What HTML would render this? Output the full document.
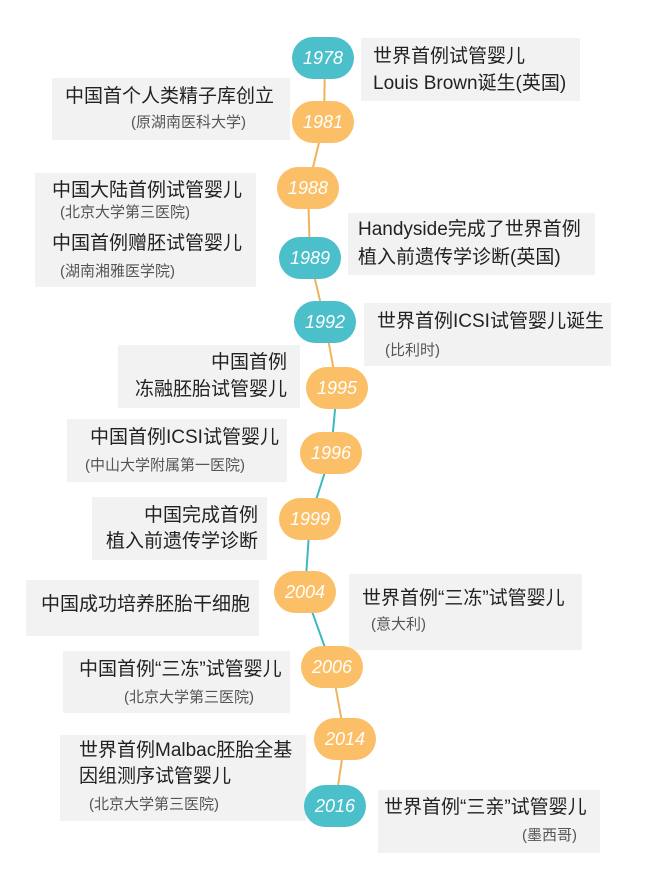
<!DOCTYPE html>
<html><head><meta charset="utf-8"><style>
body{margin:0;width:650px;height:881px;background:#fff;position:relative;overflow:hidden;font-family:"Liberation Sans","Noto Sans CJK SC",sans-serif}
.b{position:absolute;background:#f2f2f2}
.t{position:absolute;font-size:19px;color:#222;white-space:nowrap;line-height:22px}
.s{position:absolute;font-size:15px;color:#555;white-space:nowrap;line-height:18px}
.n{position:absolute;width:62px;height:42px;border-radius:21px;color:#fff;font-style:italic;font-size:18px;text-align:center;line-height:42px}
.o{background:#fbbf67}.c{background:#4bbfca}
svg{position:absolute;left:0;top:0}
</style></head><body>
<div class="b" style="left:361px;top:38px;width:219px;height:63px"></div>
<div class="b" style="left:52px;top:78px;width:238px;height:62px"></div>
<div class="b" style="left:35px;top:173px;width:221px;height:114px"></div>
<div class="b" style="left:348px;top:213px;width:247px;height:62px"></div>
<div class="b" style="left:364px;top:303px;width:247px;height:63px"></div>
<div class="b" style="left:118px;top:345px;width:182px;height:63px"></div>
<div class="b" style="left:67px;top:419px;width:220px;height:63px"></div>
<div class="b" style="left:92px;top:497px;width:175px;height:63px"></div>
<div class="b" style="left:26px;top:580px;width:233px;height:56px"></div>
<div class="b" style="left:349px;top:574px;width:233px;height:76px"></div>
<div class="b" style="left:63px;top:651px;width:227px;height:62px"></div>
<div class="b" style="left:60px;top:735px;width:246px;height:86px"></div>
<div class="b" style="left:378px;top:790px;width:222px;height:63px"></div>
<svg width="650" height="881">
<g stroke-width="2" fill="none">
<path d="M325 58 L324 122 L308 188 L310 258 L325 322 L337 388" stroke="#f0b35a"/>
<path d="M337 388 L331 453 L310 519 L305 592 L332 667" stroke="#3fb8c2"/>
<path d="M332 667 L345 739 L335 806" stroke="#f0b35a"/>
</g></svg>
<div class="n c" style="left:292px;top:37px">1978</div>
<div class="n o" style="left:292px;top:101px">1981</div>
<div class="n o" style="left:277px;top:167px">1988</div>
<div class="n c" style="left:279px;top:237px">1989</div>
<div class="n c" style="left:294px;top:301px">1992</div>
<div class="n o" style="left:306px;top:367px">1995</div>
<div class="n o" style="left:300px;top:432px">1996</div>
<div class="n o" style="left:279px;top:498px">1999</div>
<div class="n o" style="left:274px;top:571px">2004</div>
<div class="n o" style="left:301px;top:646px">2006</div>
<div class="n o" style="left:314px;top:718px">2014</div>
<div class="n c" style="left:304px;top:785px">2016</div>

<div class="t" style="left:373px;top:46px">世界首例试管婴儿</div>
<div class="t" style="left:373px;top:73px">Louis Brown诞生(英国)</div>
<div class="t" style="left:65px;top:86px">中国首个人类精子库创立</div>
<div class="s" style="left:131px;top:114px">(原湖南医科大学)</div>
<div class="t" style="left:52px;top:180px">中国大陆首例试管婴儿</div>
<div class="s" style="left:60px;top:204px">(北京大学第三医院)</div>
<div class="t" style="left:52px;top:233px">中国首例赠胚试管婴儿</div>
<div class="s" style="left:60px;top:263px">(湖南湘雅医学院)</div>
<div class="t" style="left:358px;top:219px">Handyside完成了世界首例</div>
<div class="t" style="left:358px;top:247px">植入前遗传学诊断(英国)</div>
<div class="t" style="left:377px;top:311px">世界首例ICSI试管婴儿诞生</div>
<div class="s" style="left:385px;top:342px">(比利时)</div>
<div class="t" style="left:100px;top:352px;width:187px;text-align:right">中国首例</div>
<div class="t" style="left:100px;top:379px;width:187px;text-align:right">冻融胚胎试管婴儿</div>
<div class="t" style="left:90px;top:427px">中国首例ICSI试管婴儿</div>
<div class="s" style="left:85px;top:457px">(中山大学附属第一医院)</div>
<div class="t" style="left:60px;top:505px;width:198px;text-align:right">中国完成首例</div>
<div class="t" style="left:60px;top:531px;width:198px;text-align:right">植入前遗传学诊断</div>
<div class="t" style="left:41px;top:594px">中国成功培养胚胎干细胞</div>
<div class="t" style="left:362px;top:588px">世界首例“三冻”试管婴儿</div>
<div class="s" style="left:371px;top:616px">(意大利)</div>
<div class="t" style="left:79px;top:659px">中国首例“三冻”试管婴儿</div>
<div class="s" style="left:124px;top:689px">(北京大学第三医院)</div>
<div class="t" style="left:79px;top:740px">世界首例Malbac胚胎全基</div>
<div class="t" style="left:79px;top:766px">因组测序试管婴儿</div>
<div class="s" style="left:89px;top:796px">(北京大学第三医院)</div>
<div class="t" style="left:384px;top:797px">世界首例“三亲”试管婴儿</div>
<div class="s" style="left:400px;top:827px;width:177px;text-align:right">(墨西哥)</div>
</body></html>
